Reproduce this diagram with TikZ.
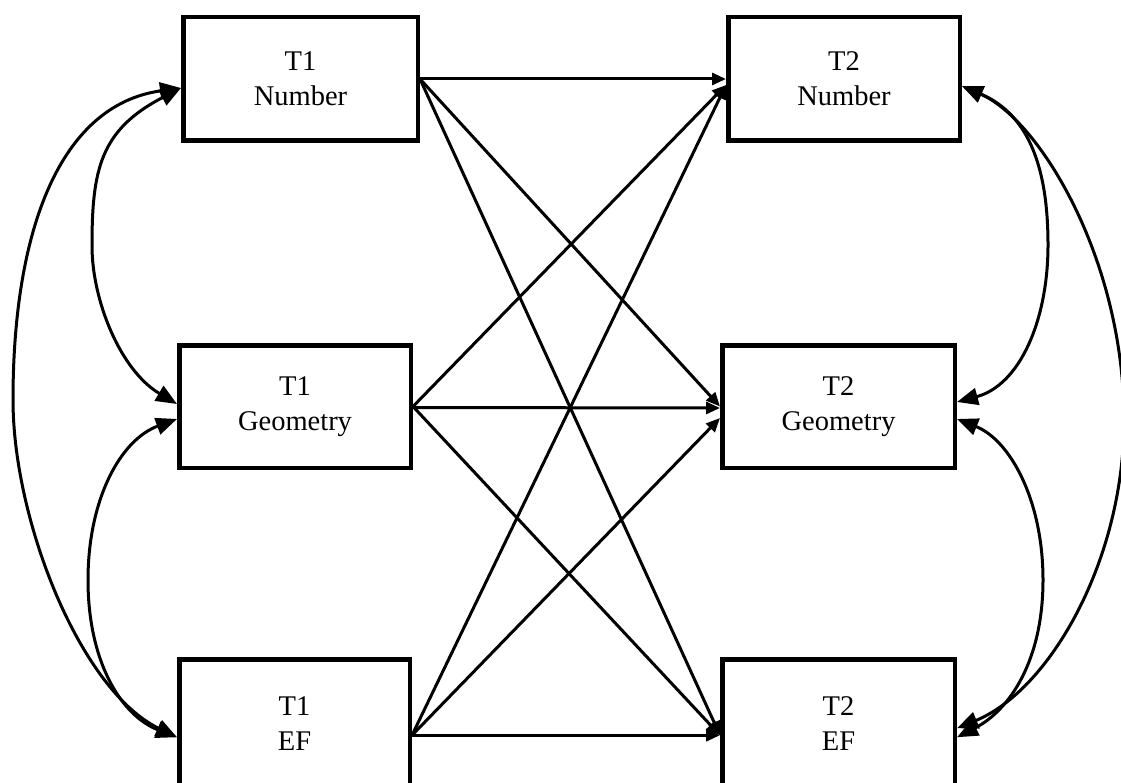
\documentclass[tikz,border=0pt]{standalone}
\usepackage{fontspec}
\setmainfont{Liberation Serif}
\usetikzlibrary{arrows.meta}
\begin{document}
\begin{tikzpicture}[x=1pt,y=-1pt,
  varbox/.style={draw, line width=4.5pt, minimum height=123.5pt, align=center, inner sep=0pt,
    font=\fontsize{28.5pt}{35pt}\selectfont},
  reg/.style={line width=3pt, -{Triangle[length=14pt,width=12pt]}},
  cov/.style={line width=3pt, {Triangle[length=21pt,width=17pt]}-{Triangle[length=21pt,width=17pt]}}]
\useasboundingbox[fill=white] (0,0) rectangle (1121,783);
% boxes
\node[varbox, minimum width=234.5pt] (t1num) at (300.5,79) {T1\\Number};
\node[varbox, minimum width=231.5pt, minimum height=122.5pt] (t1geo) at (295,406.5) {T1\\Geometry};
\node[varbox, minimum width=230.5pt, minimum height=128pt, anchor=north] (t1ef) at (294.5,657) {T1\\EF};
\node[varbox, minimum width=231.5pt] (t2num) at (844,79) {T2\\Number};
\node[varbox, minimum width=232.5pt, minimum height=122.5pt] (t2geo) at (838.5,406.5) {T2\\Geometry};
\node[varbox, minimum width=232.5pt, minimum height=128pt, anchor=north] (t2ef) at (838.5,657) {T2\\EF};
% regression paths
\draw[reg] (t1num.east) -- (t2num.west);
\draw[reg] (t1num.east) -- (t2geo.west);
\draw[reg] (t1num.east) -- ([yshift=-12pt]t2ef.west);
\draw[reg] (t1geo.east) -- ([yshift=-6pt]t2num.west);
\draw[reg] ([yshift=-1pt]t1geo.east) -- ([yshift=-1.5pt]t2geo.west);
\draw[reg] (t1geo.east) -- ([yshift=-12pt]t2ef.west);
\draw[reg] ([yshift=-12pt]t1ef.east) -- ([yshift=-6pt]t2num.west);
\draw[reg] ([yshift=-12pt]t1ef.east) -- ([yshift=-11.5pt]t2geo.west);
\draw[reg] ([yshift=-12pt]t1ef.east) -- ([yshift=-12pt]t2ef.west);
% covariances left
\draw[cov] ([yshift=-9pt]t1num.west) .. controls (100,130) and (92,170) .. (92,246)
  .. controls (92,300) and (120,370) .. ([yshift=2.5pt]t1geo.west);
\draw[cov] ([yshift=-12.5pt]t1geo.west) .. controls (120,440) and (88,500) .. (88,580)
  .. controls (88,660) and (120,715) .. ([yshift=-14pt]t1ef.west);
\draw[cov] ([yshift=-9pt]t1num.west) .. controls (60,105) and (13,230) .. (13,400)
  .. controls (13,520) and (80,690) .. ([yshift=-14pt]t1ef.west);
% covariances right
\draw[cov] ([yshift=-7pt]t2num.east) .. controls (1030,115) and (1048,170) .. (1048,245)
  .. controls (1048,320) and (1020,385) .. ([yshift=4.5pt]t2geo.east);
\draw[cov] ([yshift=-12.5pt]t2geo.east) .. controls (1010,440) and (1043,500) .. (1043,580)
  .. controls (1043,660) and (1010,710) .. ([yshift=-14pt]t2ef.east);
\draw[cov] ([yshift=-7pt]t2num.east) .. controls (1040,120) and (1124,260) .. (1124,420)
  .. controls (1124,560) and (1050,690) .. ([yshift=-5pt]t2ef.east);
\end{tikzpicture}
\end{document}
